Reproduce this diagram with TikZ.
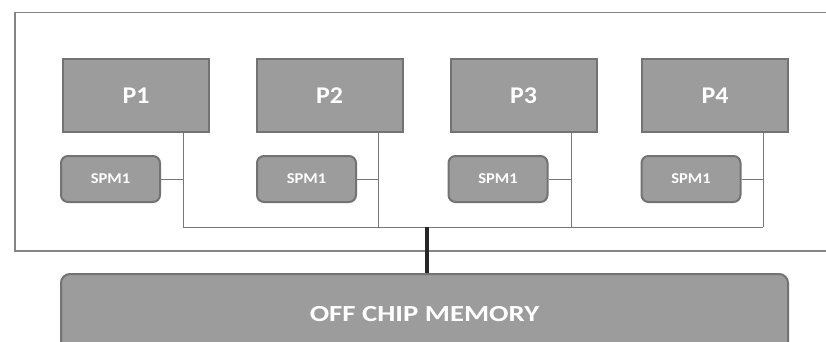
\documentclass[tikz,border=0pt]{standalone}
\usepackage{fontspec}
\setmainfont{Carlito}
\usepackage{graphicx}
\definecolor{boxfill}{HTML}{9C9C9C}
\definecolor{boxline}{HTML}{737373}
\definecolor{wire}{HTML}{777777}
\definecolor{frame}{HTML}{858585}
\begin{document}
\begin{tikzpicture}[x=1pt,y=-1pt,
  proc/.style={draw=boxline,line width=2pt,fill=boxfill,minimum width=146pt,minimum height=73pt,inner sep=0pt,text=white,font=\fontsize{24}{24}\selectfont\bfseries},
  spm/.style={draw=boxline,line width=2pt,fill=boxfill,rounded corners=7pt,minimum width=99pt,minimum height=46pt,inner sep=0pt,text=white,font=\fontsize{15}{15}\selectfont\bfseries},
  memb/.style={draw=boxline,line width=2pt,fill=boxfill,rounded corners=9pt,minimum width=727pt,minimum height=80pt,inner sep=0pt,text=white,font=\fontsize{23}{23}\selectfont\bfseries},
  wireline/.style={draw=wire,line width=1pt},
  busline/.style={draw=black!85,line width=3.5pt}]
\clip (0,0) rectangle (826,342);
\fill[white] (0,0) rectangle (826,342);
% outer chip frame
\node[draw=frame,line width=1.5pt,minimum width=820pt,minimum height=238pt,inner sep=0pt,anchor=north west] (chip) at (14,12) {};
% processors
\node[proc] (P1) at (136,95.5) {\scalebox{1.08}[1]{P1}};
\node[proc] (P2) at (329.5,95.5) {\scalebox{1.08}[1]{P2}};
\node[proc] (P3) at (523.5,95.5) {\scalebox{1.08}[1]{P3}};
\node[proc] (P4) at (715,95.5) {\scalebox{1.08}[1]{P4}};
% scratch pad memories
\node[spm] (S1) at (110.5,179) {\scalebox{1.1}[1]{SPM1}};
\node[spm] (S2) at (306.5,179) {\scalebox{1.1}[1]{SPM1}};
\node[spm] (S3) at (498,179) {\scalebox{1.1}[1]{SPM1}};
\node[spm] (S4) at (691,179) {\scalebox{1.1}[1]{SPM1}};
% off chip memory
\node[memb,anchor=north] (mem) at (424.5,273) {\raisebox{-6pt}{\scalebox{1.25}[1]{OFF CHIP MEMORY}}};
% bus coordinates
\coordinate (b1) at (183,227);
\coordinate (b2) at (378,227);
\coordinate (b3) at (571,227);
\coordinate (b4) at (763,227);
\coordinate (bm) at (427,227);
% wires
\draw[wireline] (b1 |- P1.south) -- (b1);
\draw[wireline] (b2 |- P2.south) -- (b2);
\draw[wireline] (b3 |- P3.south) -- (b3);
\draw[wireline] (b4 |- P4.south) -- (b4);
\draw[wireline] (S1.east) -- (S1.east -| b1);
\draw[wireline] (S2.east) -- (S2.east -| b2);
\draw[wireline] (S3.east) -- (S3.east -| b3);
\draw[wireline] (S4.east) -- (S4.east -| b4);
\draw[wireline] (b1) -- (b4);
\draw[busline] (bm) -- (bm |- mem.north);
\end{tikzpicture}
\end{document}
